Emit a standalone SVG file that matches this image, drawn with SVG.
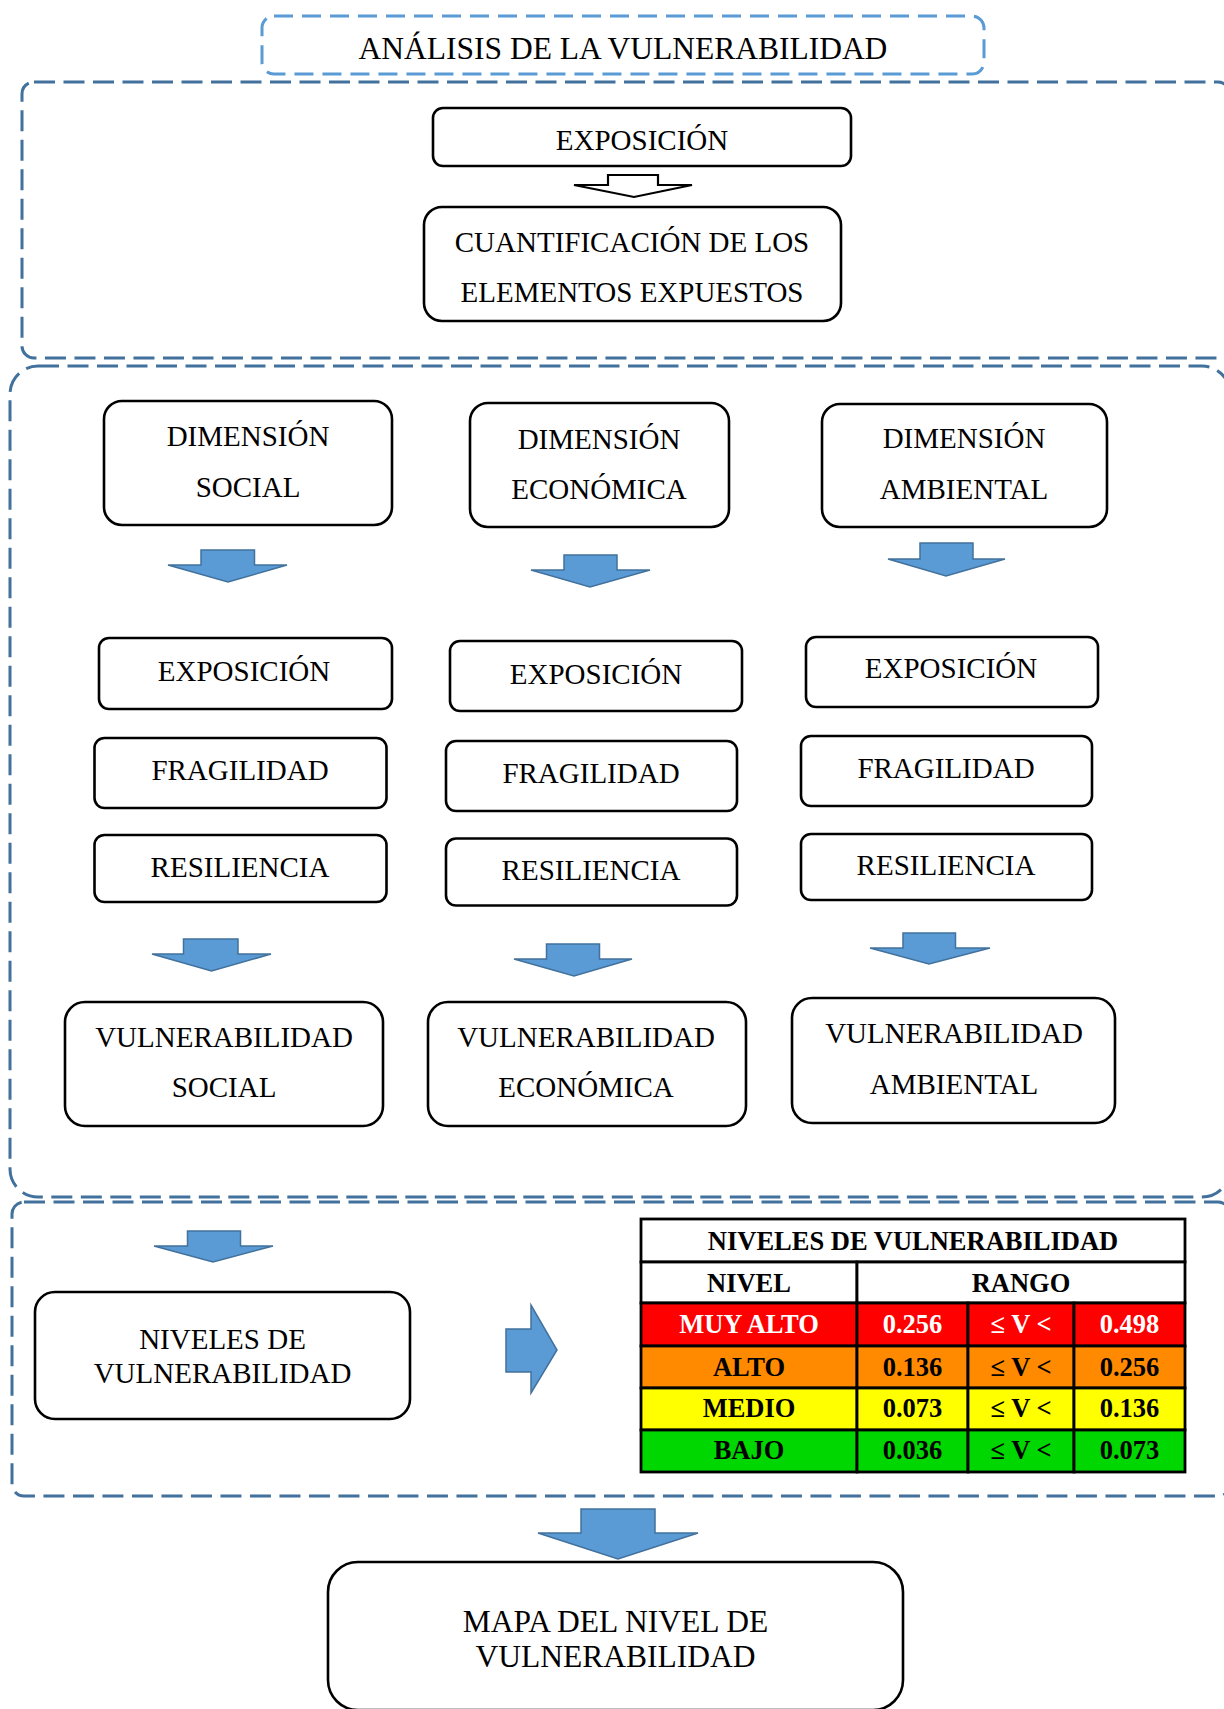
<svg xmlns="http://www.w3.org/2000/svg" width="1224" height="1709" viewBox="0 0 1224 1709">
  <style>
    .frame { fill: none; stroke: #41719C; stroke-width: 3; stroke-dasharray: 21 8.5; }
    .frame-light { fill: none; stroke: #5B9BD5; stroke-width: 3; stroke-dasharray: 19 9; }
    .node { fill: #FFFFFF; stroke: #000000; stroke-width: 2.6; }
    .txt { font-family: "Liberation Serif", "Times New Roman", serif; font-size: 29px; fill: #000000; text-anchor: middle; }
    .big { font-size: 31.5px; }
    .arrow { fill: #5B9BD5; stroke: #41719C; stroke-width: 1.5; stroke-linejoin: miter; }
    .hollow { fill: #FFFFFF; stroke: #000000; stroke-width: 2.2; stroke-linejoin: miter; }
    .cell { stroke: #000000; stroke-width: 2.8; }
    .tt { font-family: "Liberation Serif", "Times New Roman", serif; font-size: 26.5px; font-weight: bold; text-anchor: middle; fill: #000000; }
    .white { fill: #FFFFFF; }
  </style>

  <!-- dashed section frames (right edges run just past the page) -->
  <g id="frames">
    <rect id="frame-title" class="frame-light" x="262" y="16" width="722" height="58" rx="12"/>
    <rect id="frame-exposure" class="frame" x="22" y="82" width="1208" height="276" rx="12"/>
    <rect id="frame-dimensions" class="frame" x="10" y="366" width="1220" height="831" rx="28"/>
    <rect id="frame-levels" class="frame" x="12" y="1202" width="1218" height="294" rx="12"/>
  </g>

  <g id="title">
    <text class="txt big" x="623" y="59">ANÁLISIS DE LA VULNERABILIDAD</text>
  </g>

  <!-- block arrows between steps -->
  <g id="connectors">
    <path class="hollow" d="M608,175 H658 V185 H692 L634,197 L574,185 H608 Z"/>
    <path class="arrow" d="M201,550 H254.5 V565 H287 L228,582 L168,565 H201 Z"/>
    <path class="arrow" d="M564,555 H617 V570 H650 L590,587 L531,570 H564 Z"/>
    <path class="arrow" d="M920,543 H973 V559 H1005 L946,576 L888,559 H920 Z"/>
    <path class="arrow" d="M183.5,939 H238 V954 H271 L211.5,971 L152,954 H183.5 Z"/>
    <path class="arrow" d="M546.5,944 H599.5 V959 H632 L574,976 L514,959 H546.5 Z"/>
    <path class="arrow" d="M903,933 H955.5 V948 H990 L929,964 L870,948 H903 Z"/>
    <path class="arrow" d="M187.5,1231 H240.5 V1246 H273 L213,1262 L154,1246 H187.5 Z"/>
    <path class="arrow" d="M506,1329 H531 V1305 L557,1350 L531,1393 V1372 H506 Z"/>
    <path class="arrow" d="M581,1509 H655 V1533 H698 L618,1559 L538,1533 H581 Z"/>
  </g>

  <g id="node-exposicion">
    <rect class="node" x="433" y="108" width="418" height="58" rx="10"/>
    <text class="txt" x="642" y="150">EXPOSICIÓN</text>
  </g>
  <g id="node-cuantificacion">
    <rect class="node" x="424" y="207" width="417" height="114" rx="18"/>
    <text class="txt" x="632" y="252">CUANTIFICACIÓN DE LOS</text>
    <text class="txt" x="632" y="302">ELEMENTOS EXPUESTOS</text>
  </g>

  <g id="node-dim-social">
    <rect class="node" x="104" y="401" width="288" height="124" rx="18"/>
    <text class="txt" x="248" y="446">DIMENSIÓN</text>
    <text class="txt" x="248" y="497">SOCIAL</text>
  </g>
  <g id="node-dim-economica">
    <rect class="node" x="470" y="403" width="259" height="124" rx="18"/>
    <text class="txt" x="599" y="449">DIMENSIÓN</text>
    <text class="txt" x="599" y="499">ECONÓMICA</text>
  </g>
  <g id="node-dim-ambiental">
    <rect class="node" x="822" y="404" width="285" height="123" rx="18"/>
    <text class="txt" x="964" y="448">DIMENSIÓN</text>
    <text class="txt" x="964" y="499">AMBIENTAL</text>
  </g>

  <g id="node-exp-social">
    <rect class="node" x="99" y="638" width="293" height="71" rx="10"/>
    <text class="txt" x="244" y="681">EXPOSICIÓN</text>
  </g>
  <g id="node-exp-economica">
    <rect class="node" x="450" y="641" width="292" height="70" rx="10"/>
    <text class="txt" x="596" y="684">EXPOSICIÓN</text>
  </g>
  <g id="node-exp-ambiental">
    <rect class="node" x="806" y="637" width="292" height="70" rx="10"/>
    <text class="txt" x="951" y="678">EXPOSICIÓN</text>
  </g>

  <g id="node-frag-social">
    <rect class="node" x="94.5" y="738" width="292" height="70" rx="10"/>
    <text class="txt" x="240" y="780">FRAGILIDAD</text>
  </g>
  <g id="node-frag-economica">
    <rect class="node" x="446" y="741" width="291" height="70" rx="10"/>
    <text class="txt" x="591" y="783">FRAGILIDAD</text>
  </g>
  <g id="node-frag-ambiental">
    <rect class="node" x="801" y="736" width="291" height="70" rx="10"/>
    <text class="txt" x="946" y="778">FRAGILIDAD</text>
  </g>

  <g id="node-res-social">
    <rect class="node" x="94.5" y="835" width="292" height="67" rx="10"/>
    <text class="txt" x="240" y="877">RESILIENCIA</text>
  </g>
  <g id="node-res-economica">
    <rect class="node" x="446" y="838.5" width="291" height="67" rx="10"/>
    <text class="txt" x="591" y="880">RESILIENCIA</text>
  </g>
  <g id="node-res-ambiental">
    <rect class="node" x="801" y="834" width="291" height="66" rx="10"/>
    <text class="txt" x="946" y="875">RESILIENCIA</text>
  </g>

  <g id="node-vul-social">
    <rect class="node" x="65" y="1002" width="318" height="124" rx="20"/>
    <text class="txt" x="224" y="1047">VULNERABILIDAD</text>
    <text class="txt" x="224" y="1097">SOCIAL</text>
  </g>
  <g id="node-vul-economica">
    <rect class="node" x="428" y="1002" width="318" height="124" rx="20"/>
    <text class="txt" x="586" y="1047">VULNERABILIDAD</text>
    <text class="txt" x="586" y="1097">ECONÓMICA</text>
  </g>
  <g id="node-vul-ambiental">
    <rect class="node" x="792" y="998" width="323" height="125" rx="20"/>
    <text class="txt" x="954" y="1043">VULNERABILIDAD</text>
    <text class="txt" x="954" y="1094">AMBIENTAL</text>
  </g>

  <g id="node-niveles">
    <rect class="node" x="35" y="1292" width="375" height="127" rx="20"/>
    <text class="txt" x="222.5" y="1349">NIVELES DE</text>
    <text class="txt" x="222.5" y="1383">VULNERABILIDAD</text>
  </g>

  <!-- vulnerability level ranges -->
  <g id="node-tabla">
    <rect class="cell" fill="#FFFFFF" x="641" y="1219" width="544" height="43"/>
    <rect class="cell" fill="#FFFFFF" x="641" y="1262" width="216" height="41"/>
    <rect class="cell" fill="#FFFFFF" x="857" y="1262" width="328" height="41"/>

    <rect class="cell" fill="#FF0000" x="641" y="1303" width="216" height="43"/>
    <rect class="cell" fill="#FF0000" x="857" y="1303" width="111" height="43"/>
    <rect class="cell" fill="#FF0000" x="968" y="1303" width="106" height="43"/>
    <rect class="cell" fill="#FF0000" x="1074" y="1303" width="111" height="43"/>

    <rect class="cell" fill="#FF8A00" x="641" y="1346" width="216" height="42"/>
    <rect class="cell" fill="#FF8A00" x="857" y="1346" width="111" height="42"/>
    <rect class="cell" fill="#FF8A00" x="968" y="1346" width="106" height="42"/>
    <rect class="cell" fill="#FF8A00" x="1074" y="1346" width="111" height="42"/>

    <rect class="cell" fill="#FFFF00" x="641" y="1388" width="216" height="42"/>
    <rect class="cell" fill="#FFFF00" x="857" y="1388" width="111" height="42"/>
    <rect class="cell" fill="#FFFF00" x="968" y="1388" width="106" height="42"/>
    <rect class="cell" fill="#FFFF00" x="1074" y="1388" width="111" height="42"/>

    <rect class="cell" fill="#00D600" x="641" y="1430" width="216" height="42"/>
    <rect class="cell" fill="#00D600" x="857" y="1430" width="111" height="42"/>
    <rect class="cell" fill="#00D600" x="968" y="1430" width="106" height="42"/>
    <rect class="cell" fill="#00D600" x="1074" y="1430" width="111" height="42"/>

    <text class="tt" x="913" y="1250">NIVELES DE VULNERABILIDAD</text>
    <text class="tt" x="749" y="1292">NIVEL</text>
    <text class="tt" x="1021" y="1292">RANGO</text>

    <text class="tt white" x="749" y="1333">MUY ALTO</text>
    <text class="tt white" x="912.5" y="1333">0.256</text>
    <text class="tt white" x="1021" y="1333">≤ V &lt;</text>
    <text class="tt white" x="1129.5" y="1333">0.498</text>

    <text class="tt" x="749" y="1376">ALTO</text>
    <text class="tt" x="912.5" y="1376">0.136</text>
    <text class="tt" x="1021" y="1376">≤ V &lt;</text>
    <text class="tt" x="1129.5" y="1376">0.256</text>

    <text class="tt" x="749" y="1417">MEDIO</text>
    <text class="tt" x="912.5" y="1417">0.073</text>
    <text class="tt" x="1021" y="1417">≤ V &lt;</text>
    <text class="tt" x="1129.5" y="1417">0.136</text>

    <text class="tt" x="749" y="1459">BAJO</text>
    <text class="tt" x="912.5" y="1459">0.036</text>
    <text class="tt" x="1021" y="1459">≤ V &lt;</text>
    <text class="tt" x="1129.5" y="1459">0.073</text>
  </g>

  <g id="node-mapa">
    <rect class="node" x="328" y="1562" width="575" height="148" rx="30"/>
    <text class="txt big" x="615.5" y="1632">MAPA DEL NIVEL DE</text>
    <text class="txt big" x="615.5" y="1667">VULNERABILIDAD</text>
  </g>
</svg>
